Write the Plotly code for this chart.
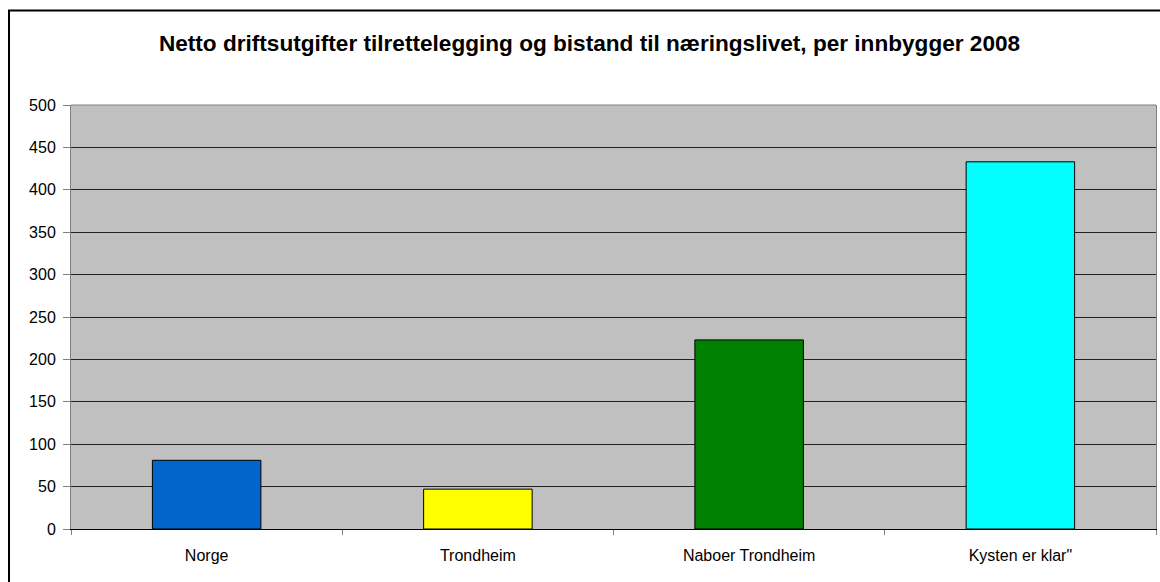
import plotly.graph_objects as go

categories = ["Norge", "Trondheim", "Naboer Trondheim", "Kysten er klar\""]
values = [81, 47, 223, 433]
colors = ["#0066CC", "#FFFF00", "#008000", "#00FFFF"]
title = "Netto driftsutgifter tilrettelegging og bistand til næringslivet, per innbygger 2008"
y_ticks = list(range(0, 501, 50))

W, H = 1160, 582
L, R, T, B = 71, 4, 105, 53
pw, ph = W - L - R, H - T - B

def px(x):
    return (x - L) / pw

def py(y):
    return (H - B - y) / ph

fig = go.Figure(go.Bar(
    x=categories, y=values,
    marker=dict(color=colors, line=dict(color="#000000", width=1)),
))

fig.update_layout(
    width=W, height=H,
    margin=dict(l=L, r=R, t=T, b=B),
    paper_bgcolor="#FFFFFF",
    plot_bgcolor="#C0C0C0",
    bargap=0.6,
    showlegend=False,
    font=dict(family="Liberation Sans, Arial, sans-serif", size=16, color="#000000"),
    title=dict(text="<b>" + title + "</b>", x=589.5 / W, xref="container", xanchor="center",
               y=1 - 43 / H, yanchor="middle", font=dict(size=22.6)),
    xaxis=dict(
        showgrid=False, ticks="outside", tickson="boundaries", ticklen=5,
        tickcolor="#808080", showline=True, linecolor="#000000", linewidth=1,
        tickfont=dict(size=16), ticklabelstandoff=12,
    ),
    yaxis=dict(
        range=[0, 500], tickvals=y_ticks, showgrid=True, gridcolor="#222222",
        gridwidth=1, ticks="outside", ticklen=7, tickcolor="#808080",
        showline=True, linecolor="#808080", linewidth=1, mirror=True,
        zeroline=False, tickfont=dict(size=16), ticklabelstandoff=4,
    ),
    shapes=[
        dict(type="line", xref="paper", yref="paper", x0=0, x1=1, y0=1, y1=1,
             line=dict(color="#808080", width=1)),
        dict(type="rect", xref="paper", yref="paper",
             x0=px(9), x1=px(1175), y0=py(10.5), y1=py(600),
             line=dict(color="#000000", width=2)),
    ],
)

fig.write_html(
    "out.html",
    config={"displayModeBar": False},
    post_script="document.body.style.margin='0';document.body.style.overflow='hidden';",
)
